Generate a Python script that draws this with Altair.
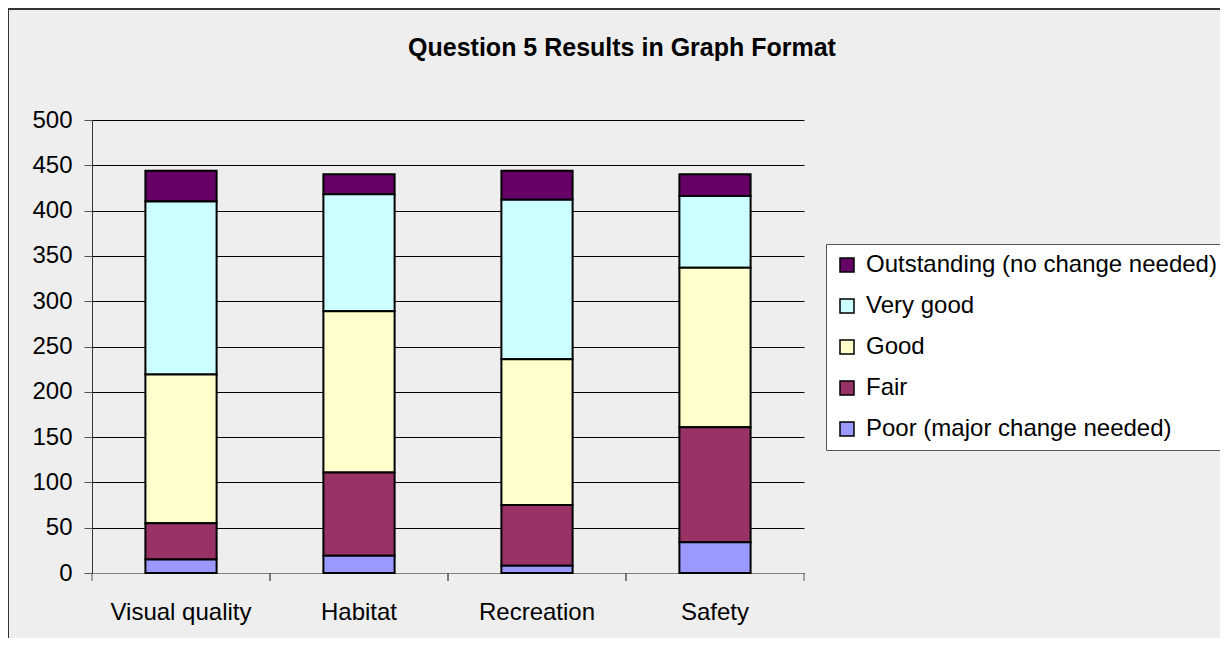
import altair as alt
import pandas as pd

# ---- data ----
categories = ["Visual quality", "Habitat", "Recreation", "Safety"]
ratings = ["Outstanding (no change needed)", "Very good", "Good", "Fair",
           "Poor (major change needed)"]
poor = [15, 19, 8, 34]
fair = [40, 92, 67, 127]
good = [164, 178, 161, 176]
very_good = [191, 129, 176, 79]
outstanding = [34, 22, 32, 24]
colors = ["#660066", "#CCFFFF", "#FFFFCC", "#993366", "#9999FF"]
y_ticks = list(range(0, 501, 50))
title_text = "Question 5 Results in Graph Format"

series = [outstanding, very_good, good, fair, poor]
rows = []
for r_i, (rating, vals) in enumerate(zip(ratings, series)):
    for cat, v in zip(categories, vals):
        rows.append({"category": cat, "rating": rating, "count": v,
                     "rank": len(ratings) - 1 - r_i})
df = pd.DataFrame(rows)
cat_df = pd.DataFrame({"category": categories})

FONT = "Tahoma, Liberation Sans, Arial, sans-serif"
W, H = 712, 453
PAD = {"left": 84, "top": 112, "right": 416, "bottom": 65}

x_scale = alt.Scale(domain=categories, paddingInner=0, paddingOuter=0)

bars = alt.Chart(df).mark_bar(
    width={"band": 0.4}, stroke="black", strokeWidth=2
).encode(
    x=alt.X("category:N", scale=x_scale, sort=categories,
            axis=alt.Axis(title=None, ticks=False, labelAngle=0,
                          labelFontSize=24, labelFont=FONT, labelColor="black",
                          labelPadding=27, domainColor="#808080",
                          domainWidth=1, grid=False, labelLimit=300)),
    y=alt.Y("count:Q", stack="zero",
            scale=alt.Scale(domain=[0, 500], nice=False),
            axis=alt.Axis(title=None, values=y_ticks, tickSize=8,
                          tickColor="#555", domainColor="#333",
                          labelFontSize=24, labelFont=FONT,
                          labelColor="black", labelPadding=12,
                          grid=True, gridColor="#000", gridWidth=1)),
    color=alt.Color("rating:N",
                    scale=alt.Scale(domain=ratings, range=colors),
                    legend=alt.Legend(
                        title=None, orient="none", legendX=734, legendY=124,
                        direction="vertical", symbolType="square",
                        symbolSize=196, symbolStrokeColor="black",
                        symbolStrokeWidth=1.5, labelFontSize=24,
                        labelFont=FONT, labelColor="black", rowPadding=17,
                        padding=9, labelOffset=7, strokeColor="#555",
                        fillColor="white", labelLimit=600)),
    order=alt.Order("rank:Q", sort="ascending"),
)

tick_left = alt.Chart(cat_df).mark_rule(color="#555", strokeWidth=1).encode(
    x=alt.X("category:N", scale=x_scale, sort=categories, bandPosition=0),
    y=alt.value(H), y2=alt.value(H + 8),
)
tick_right = alt.Chart(cat_df).mark_rule(color="#555", strokeWidth=1).encode(
    x=alt.X("category:N", scale=x_scale, sort=categories, bandPosition=1),
    y=alt.value(H), y2=alt.value(H + 8),
)

frame_src = alt.Data(values=[{}])
border_top = alt.Chart(frame_src).mark_rule(color="#333", strokeWidth=2).encode(
    x=alt.value(-PAD["left"]), x2=alt.value(W + PAD["right"]),
    y=alt.value(-PAD["top"] + 1),
)
border_left = alt.Chart(frame_src).mark_rule(color="#333", strokeWidth=1).encode(
    x=alt.value(-PAD["left"] + 0.5),
    y=alt.value(-PAD["top"]), y2=alt.value(H + PAD["bottom"]),
)

chart = alt.layer(bars, tick_left, tick_right, border_top, border_left).properties(
    width=W, height=H,
    autosize=alt.AutoSizeParams(type="none"),
    padding=PAD,
    background="#EEEEEE",
    title=alt.TitleParams(title_text, font=FONT, fontSize=25,
                          fontWeight="bold", color="black", anchor="middle",
                          frame="group", dx=174, offset=0, dy=53),
).configure_view(stroke=None, fill="#EEEEEE")

chart.save("out.html", embed_options={"renderer": "svg", "actions": False})
